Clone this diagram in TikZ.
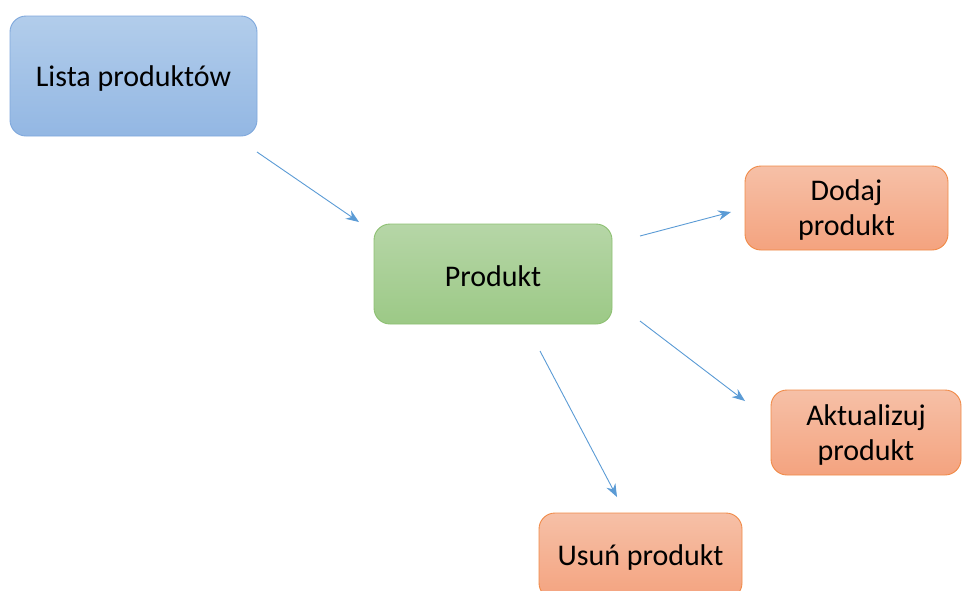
\documentclass[tikz,border=0pt]{standalone}
\usepackage{fontspec}
\setmainfont{Carlito}
\usetikzlibrary{arrows.meta}
\definecolor{bluetop}{HTML}{B2CDEB}
\definecolor{bluebot}{HTML}{93B7E3}
\definecolor{blueline}{HTML}{7FA8DC}
\definecolor{greentop}{HTML}{B6D6A7}
\definecolor{greenbot}{HTML}{9CC986}
\definecolor{greenline}{HTML}{8DC072}
\definecolor{orangetop}{HTML}{F6C0A7}
\definecolor{orangebot}{HTML}{F4A37F}
\definecolor{orangeline}{HTML}{F08A47}
\definecolor{arrowblue}{HTML}{5B9BD5}
\tikzset{
  box/.style={draw, rounded corners=16pt, line width=0.9pt, align=center,
    font=\fontsize{30}{35}\selectfont, text=black, inner sep=0pt},
  bluebox/.style={box, draw=blueline, top color=bluetop, bottom color=bluebot},
  greenbox/.style={box, draw=greenline, top color=greentop, bottom color=greenbot},
  orangebox/.style={box, draw=orangeline, top color=orangetop, bottom color=orangebot},
  conn/.style={draw=arrowblue, line width=0.9pt, -{Stealth[length=13pt,width=10pt]}}
}
\begin{document}
\begin{tikzpicture}[x=1pt,y=-1pt]
\useasboundingbox (0,0) rectangle (962,590);
\begin{scope}
\clip (0,0) rectangle (962,590);
\node[bluebox, minimum width=247pt, minimum height=120pt] (lista) at (133.5,76) {};
\node[font=\fontsize{30}{35}\selectfont] (listatxt) at (133.5,78) {Lista produktów};
\node[greenbox, minimum width=238pt, minimum height=100pt] (produkt) at (493,274) {};
\node[font=\fontsize{30}{35}\selectfont] (produkttxt) at (493,276) {Produkt};
\node[orangebox, minimum width=203pt, minimum height=84pt] (dodaj) at (846.5,208) {};
\node[font=\fontsize{30}{35}\selectfont, align=center] (dodajtxt) at (846.5,210) {Dodaj\\produkt};
\node[orangebox, minimum width=190pt, minimum height=85pt] (aktual) at (866,432.5) {};
\node[font=\fontsize{30}{35}\selectfont, align=center] (aktualtxt) at (866,434.5) {Aktualizuj\\produkt};
\node[orangebox, minimum width=203pt, minimum height=86pt] (usun) at (640.5,556) {};
\node[font=\fontsize{30}{35}\selectfont] (usuntxt) at (640.5,557) {Usuń produkt};
\end{scope}
\coordinate (a1s) at (257,152);
\coordinate (a1e) at (359,222);
\coordinate (a2s) at (640,236);
\coordinate (a2e) at (731,212);
\coordinate (a3s) at (640,321);
\coordinate (a3e) at (745,401);
\coordinate (a4s) at (540,351);
\coordinate (a4e) at (617,497);
\draw[conn] (a1s) -- (a1e);
\draw[conn] (a2s) -- (a2e);
\draw[conn] (a3s) -- (a3e);
\draw[conn] (a4s) -- (a4e);
\end{tikzpicture}
\end{document}
